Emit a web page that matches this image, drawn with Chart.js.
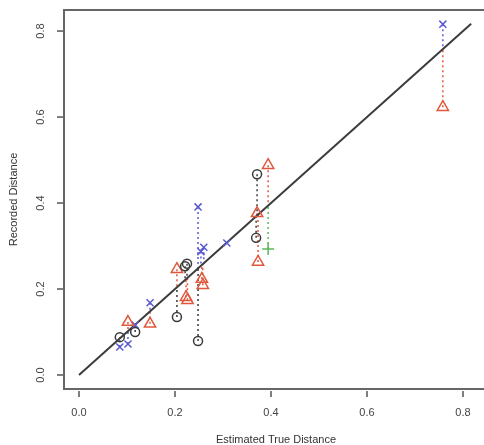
<!DOCTYPE html>
<html>
<head>
<meta charset="utf-8">
<script src="https://cdn.jsdelivr.net/npm/chart.js@4"></script>
<style>
  html, body { margin: 0; padding: 0; background: #fff; overflow: hidden; }
</style>
</head>
<body>
<canvas id="distChart" width="484" height="445"></canvas>
<script>
const xTicks = [0.0, 0.2, 0.4, 0.6, 0.8];
const yTicks = [0.0, 0.2, 0.4, 0.6, 0.8];
const xTitle = "Estimated True Distance";
const yTitle = "Recorded Distance";

// observer 1 - black circles
const circleX = [0.085, 0.117, 0.204, 0.221, 0.225, 0.248, 0.369, 0.371];
const circleY = [0.088, 0.100, 0.135, 0.253, 0.259, 0.079, 0.319, 0.467];
// observer 2 - red triangles
const triangleX = [0.102, 0.148, 0.204, 0.223, 0.226, 0.256, 0.258, 0.371, 0.373, 0.394, 0.758];
const triangleY = [0.123, 0.119, 0.246, 0.181, 0.174, 0.223, 0.209, 0.376, 0.263, 0.488, 0.623];
// observer 3 - blue crosses
const crossX = [0.085, 0.102, 0.117, 0.148, 0.248, 0.254, 0.260, 0.308, 0.758];
const crossY = [0.065, 0.072, 0.116, 0.168, 0.391, 0.287, 0.297, 0.307, 0.816];
// observer 4 - green plus
const plusX = [0.394];
const plusY = [0.293];

// 1:1 reference line
const refLine = [0, 0.817];

const BLACK = "#3a3a3a";
const RED = "#e0583c";
const BLUE = "#5a5ad0";
const GREEN = "#5cb85c";
const AXIS = "#555";

const toPts = (xs, ys) => xs.map((x, i) => ({ x, y: ys[i] }));

// dotted residual from each point to the 1:1 line
function residuals(xs, ys, color) {
  return xs.map((x, i) => ({
    data: [{ x, y: ys[i] }, { x, y: x }],
    showLine: true,
    pointRadius: 0,
    borderColor: color,
    borderWidth: 1.5,
    borderDash: [2, 3],
    order: 3,
  }));
}

const framePlugin = {
  id: "frame",
  beforeDatasetsDraw(chart) {
    const { ctx, chartArea: a } = chart;
    ctx.save();
    ctx.strokeStyle = "#666";
    ctx.lineWidth = 2;
    ctx.beginPath();
    ctx.moveTo(a.right + 2, a.top);
    ctx.lineTo(a.left, a.top);
    ctx.lineTo(a.left, a.bottom);
    ctx.lineTo(a.right + 2, a.bottom);
    ctx.stroke();
    ctx.restore();
  },
  afterDraw(chart) {
    const { ctx, chartArea: a, scales } = chart;
    ctx.save();
    ctx.strokeStyle = AXIS;
    ctx.lineWidth = 1.5;
    ctx.fillStyle = "#444";
    ctx.font = "11px 'Liberation Sans', Arial, sans-serif";
    ctx.textAlign = "center";
    ctx.textBaseline = "middle";

    xTicks.forEach((t) => {
      const px = scales.x.getPixelForValue(t);
      ctx.beginPath();
      ctx.moveTo(px, a.bottom + 2);
      ctx.lineTo(px, a.bottom + 8);
      ctx.stroke();
      ctx.fillText(t.toFixed(1), px, a.bottom + 24);
    });

    yTicks.forEach((t) => {
      const py = scales.y.getPixelForValue(t);
      ctx.beginPath();
      ctx.moveTo(a.left - 1, py);
      ctx.lineTo(a.left - 7, py);
      ctx.stroke();
      ctx.save();
      ctx.translate(a.left - 23, py);
      ctx.rotate(-Math.PI / 2);
      ctx.fillText(t.toFixed(1), 0, 0);
      ctx.restore();
    });

    ctx.fillStyle = "#333";
    ctx.fillText(xTitle, (a.left + a.right) / 2 + 2, a.bottom + 51);
    ctx.save();
    ctx.translate(14, (a.top + a.bottom) / 2);
    ctx.rotate(-Math.PI / 2);
    ctx.fillText(yTitle, 0, 0);
    ctx.restore();
    ctx.restore();
  },
};

new Chart(document.getElementById("distChart"), {
  type: "scatter",
  data: {
    datasets: [
      {
        data: toPts(refLine, refLine),
        showLine: true,
        pointRadius: 0,
        borderColor: "#3c3c3c",
        borderWidth: 2,
        order: 2,
      },
      ...residuals(circleX, circleY, BLACK),
      ...residuals(triangleX, triangleY, RED),
      ...residuals(crossX, crossY, BLUE),
      ...residuals(plusX, plusY, GREEN),
      {
        data: toPts(circleX, circleY),
        pointStyle: "circle",
        pointRadius: 4.5,
        borderColor: BLACK,
        backgroundColor: "rgba(0,0,0,0)",
        pointBorderWidth: 1.5,
        order: 0,
      },
      {
        data: toPts(triangleX, triangleY),
        pointStyle: "triangle",
        pointRadius: 6.5,
        borderColor: RED,
        backgroundColor: "rgba(0,0,0,0)",
        pointBorderWidth: 1.5,
        order: 0,
      },
      {
        data: toPts(crossX, crossY),
        pointStyle: "crossRot",
        pointRadius: 5,
        borderColor: BLUE,
        pointBorderWidth: 1.5,
        order: 0,
      },
      {
        data: toPts(plusX, plusY),
        pointStyle: "cross",
        pointRadius: 6,
        borderColor: GREEN,
        pointBorderWidth: 1.5,
        order: 0,
      },
    ],
  },
  options: {
    animation: false,
    responsive: false,
    devicePixelRatio: 1,
    layout: { autoPadding: false, padding: { left: 64, top: 10, right: 0, bottom: 56 } },
    scales: {
      x: { type: "linear", display: false, min: -0.03125, max: 0.84375 },
      y: { type: "linear", display: false, min: -0.0326, max: 0.849 },
    },
    plugins: {
      legend: { display: false },
      tooltip: { enabled: false },
    },
  },
  plugins: [framePlugin],
});
</script>
</body>
</html>
